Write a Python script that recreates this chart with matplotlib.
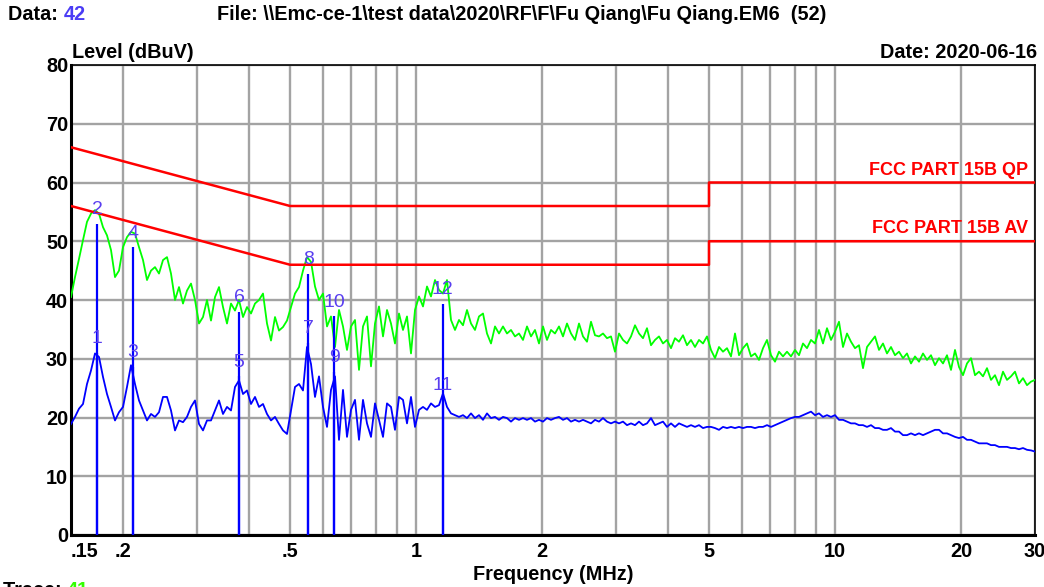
import numpy as np
import matplotlib
matplotlib.use("Agg")
import matplotlib.pyplot as plt
from matplotlib.ticker import FixedLocator, NullFormatter

plt.rcParams['font.family'] = ['Liberation Sans', 'DejaVu Sans']

# ---------------- data ----------------
f_start, f_stop = 0.15, 30.0   # MHz sweep range

peak_levels = [
    40.5, 43.9, 47.0, 50.2, 53.3, 54.7, 55.3, 54.7, 52.4, 51.0,
    48.5, 43.9, 45.0, 49.0, 50.7, 51.6, 51.3, 49.0, 46.8, 43.4,
    45.0, 45.6, 44.5, 46.8, 47.3, 44.5, 40.0, 42.2, 39.4, 41.6,
    42.8, 40.0, 36.0, 37.1, 40.0, 36.5, 40.5, 42.2, 38.8, 36.0,
    39.4, 38.2, 40.0, 37.1, 38.8, 37.7, 39.4, 40.0, 41.1, 36.0,
    33.1, 37.1, 34.8, 35.4, 36.5, 38.8, 41.1, 42.2, 45.0, 47.3,
    46.5, 42.3, 40.0, 41.1, 35.5, 37.2, 32.0, 38.3, 35.5, 31.5,
    35.5, 36.6, 28.1, 35.5, 37.2, 28.7, 36.0, 38.9, 33.8, 38.3,
    36.0, 32.6, 37.7, 34.9, 37.2, 30.9, 38.3, 40.6, 38.9, 42.3,
    40.6, 43.4, 41.7, 41.1, 43.4, 36.6, 34.9, 36.6, 35.7, 38.3,
    36.0, 34.9, 37.2, 37.7, 34.3, 32.6, 35.5, 34.3, 35.5, 34.3,
    34.9, 33.8, 34.3, 33.2, 35.5, 33.8, 34.9, 32.6, 35.5, 33.2,
    34.9, 34.3, 35.5, 33.8, 36.0, 34.3, 33.2, 36.0, 33.8, 32.9,
    36.3, 34.0, 33.8, 34.3, 33.5, 33.8, 31.2, 34.3, 33.2, 32.6,
    33.8, 35.7, 34.3, 33.5, 35.2, 32.3, 33.2, 33.8, 32.6, 33.2,
    31.8, 33.5, 32.9, 34.0, 32.3, 33.2, 32.0, 33.2, 32.6, 33.8,
    31.5, 30.1, 32.0, 31.2, 31.8, 30.4, 34.3, 30.6, 31.8, 32.6,
    30.4, 30.9, 29.8, 31.8, 33.2, 30.6, 29.5, 31.2, 30.4, 31.2,
    30.4, 31.5, 30.6, 32.6, 31.8, 33.2, 32.6, 34.9, 32.6, 35.2,
    33.2, 34.6, 36.3, 32.0, 34.3, 32.9, 31.8, 32.3, 28.4, 32.0,
    32.9, 33.8, 31.5, 32.6, 30.9, 32.0, 30.6, 31.2, 30.1, 30.9,
    29.2, 30.4, 29.5, 30.9, 29.8, 30.6, 28.9, 30.1, 29.2, 30.6,
    28.1, 31.5, 28.6, 27.2, 29.2, 30.1, 27.2, 27.8, 27.0, 28.4,
    26.4, 27.2, 25.5, 27.8, 26.4, 27.0, 27.8, 25.8, 26.7, 25.5,
    26.1, 26.4,
]

avg_levels = [
    18.9, 20.1, 21.5, 22.3, 25.7, 28.0, 30.9, 30.3, 26.9, 24.0,
    21.8, 19.5, 20.9, 21.8, 25.2, 28.9, 25.7, 22.9, 21.2, 19.5,
    20.6, 20.1, 20.9, 23.5, 23.5, 21.2, 17.8, 19.5, 19.2, 20.1,
    21.8, 22.9, 18.9, 17.8, 19.5, 19.5, 21.2, 22.9, 20.6, 21.8,
    21.2, 25.2, 26.3, 24.0, 24.6, 22.3, 23.5, 21.8, 22.3, 20.6,
    19.5, 20.1, 18.9, 17.8, 17.2, 21.2, 25.2, 25.7, 24.6, 32.0,
    29.1, 23.5, 27.0, 21.8, 18.4, 24.7, 27.0, 16.2, 24.7, 16.7,
    21.3, 23.0, 16.2, 23.0, 19.0, 16.7, 22.4, 19.6, 16.7, 22.4,
    21.8, 17.9, 23.5, 23.0, 19.0, 23.5, 18.4, 21.3, 21.8, 21.3,
    22.4, 21.8, 22.1, 24.1, 21.8, 20.7, 20.4, 20.1, 20.4, 19.9,
    20.7, 19.9, 20.4, 19.6, 20.7, 19.9, 20.1, 19.6, 20.1, 19.9,
    19.3, 19.9, 19.6, 19.9, 19.6, 19.9, 19.3, 19.6, 19.3, 19.9,
    19.6, 19.9, 20.1, 19.6, 19.9, 19.3, 19.6, 19.3, 19.6, 19.3,
    19.0, 19.6, 19.3, 19.9, 19.3, 19.0, 19.3, 19.0, 19.3, 18.7,
    19.0, 18.7, 19.3, 18.7, 19.0, 19.9, 18.7, 19.0, 19.3, 18.4,
    19.0, 18.4, 19.0, 18.7, 18.4, 18.7, 18.4, 18.7, 18.2, 18.4,
    18.4, 18.2, 17.9, 18.4, 18.2, 18.4, 18.2, 18.4, 18.2, 18.4,
    18.4, 18.2, 18.4, 18.4, 18.7, 18.4, 18.7, 19.0, 19.3, 19.6,
    19.9, 20.1, 20.1, 20.4, 20.7, 21.0, 20.4, 20.7, 20.1, 20.4,
    20.1, 20.4, 19.6, 19.6, 19.3, 19.0, 19.0, 18.7, 18.7, 18.4,
    18.7, 18.2, 18.2, 17.9, 17.9, 18.2, 17.6, 17.6, 17.0, 17.0,
    17.3, 17.0, 17.3, 17.0, 17.3, 17.6, 17.9, 17.9, 17.3, 17.3,
    17.0, 16.7, 16.5, 16.7, 16.2, 16.2, 15.9, 15.6, 15.6, 15.6,
    15.3, 15.3, 15.0, 15.0, 15.0, 14.8, 14.8, 14.6, 14.8, 14.5,
    14.4, 14.2,
]

# limit lines (FCC Part 15B)
qp_freq = [0.15, 0.5, 0.5, 5.0, 5.0, 30.0]
qp_limit = [66, 56, 56, 56, 60, 60]
av_freq = [0.15, 0.5, 0.5, 5.0, 5.0, 30.0]
av_limit = [56, 46, 46, 46, 50, 50]

# markers
marker_ids = ['1', '2', '3', '4', '5', '6', '7', '8', '9', '10', '11', '12']
marker_freq = [0.173, 0.173, 0.2106, 0.2106, 0.378, 0.378,
               0.553, 0.553, 0.638, 0.638, 1.157, 1.157]
marker_level = [31.0, 53.0, 28.6, 49.0, 27.0, 38.0,
                32.7, 44.5, 27.8, 37.2, 23.0, 39.4]

x_ticks = [0.15, 0.2, 0.5, 1, 2, 5, 10, 20, 30]
x_tick_labels = ['.15', '.2', '.5', '1', '2', '5', '10', '20', '30']
x_minor = [0.3, 0.4, 0.6, 0.7, 0.8, 0.9, 3, 4, 6, 7, 8, 9]
y_ticks = [0, 10, 20, 30, 40, 50, 60, 70, 80]

# ---------------- figure ----------------
W, H = 1044, 587
FS = 14.3
fig = plt.figure(figsize=(W / 100, H / 100), dpi=100)
ax = fig.add_axes([71 / W, 52 / H, 964 / W, 470 / H])

sweep = np.geomspace(f_start, f_stop, len(peak_levels))

ax.set_xscale('log')
ax.set_xlim(f_start, f_stop)
ax.set_ylim(0, 80)

grid_c = '#a3a3a3'
ax.xaxis.set_major_locator(FixedLocator(x_ticks))
ax.xaxis.set_minor_locator(FixedLocator(x_minor))
ax.xaxis.set_minor_formatter(NullFormatter())
ax.set_xticklabels(x_tick_labels)
ax.set_yticks(y_ticks)
ax.grid(True, which='both', axis='x', color=grid_c, lw=1.7, zorder=0)
ax.grid(True, which='major', axis='y', color=grid_c, lw=1.7, zorder=0)
ax.set_axisbelow(True)
ax.tick_params(which='both', length=0)
ax.tick_params(axis='x', pad=5)
ax.tick_params(axis='y', pad=2)

for lab in ax.get_xticklabels() + ax.get_yticklabels():
    lab.set_fontsize(FS)
    lab.set_fontweight('bold')
xl = ax.get_xticklabels()
xl[0].set_horizontalalignment('left')

for s in ['left', 'bottom']:
    ax.spines[s].set_linewidth(2.2)
for s in ['top', 'right']:
    ax.spines[s].set_linewidth(1.2)

# traces
ax.plot(sweep, peak_levels, color='#00ff00', lw=1.3, zorder=3)
ax.plot(sweep, avg_levels, color='#0000ff', lw=1.3, zorder=4)

# limits
ax.plot(qp_freq, qp_limit, color='#ff0000', lw=1.8, zorder=5)
ax.plot(av_freq, av_limit, color='#ff0000', lw=1.8, zorder=5)
ax.text(0.993, 62.1, 'FCC PART 15B QP', transform=ax.get_yaxis_transform(),
        ha='right', va='center', color='#ff0000', fontsize=13, fontweight='bold')
ax.text(0.993, 52.1, 'FCC PART 15B AV', transform=ax.get_yaxis_transform(),
        ha='right', va='center', color='#ff0000', fontsize=13, fontweight='bold')

# markers
ax.vlines(marker_freq, 0, marker_level, color='#0000ff', lw=1.6, zorder=6)
for mid, mf, ml in zip(marker_ids, marker_freq, marker_level):
    ax.text(mf, ml + 2.4, mid, ha='center', va='center', color='#5a3ff0',
            fontsize=14, zorder=7)

# axis titles / header texts
fig.text(72 / W, 1 - 52 / H, 'Level (dBuV)', ha='left', va='center',
         fontsize=FS, fontweight='bold')
fig.text(553 / W, 1 - 574 / H, 'Frequency (MHz)', ha='center', va='center',
         fontsize=FS, fontweight='bold')
fig.text(1037 / W, 1 - 52 / H, 'Date: 2020-06-16', ha='right', va='center',
         fontsize=FS, fontweight='bold')

t1 = fig.text(8 / W, 1 - 15 / H, 'Data: ', ha='left', va='center',
              fontsize=FS, fontweight='bold')
fig.canvas.draw()
bb = t1.get_window_extent()
fig.text(bb.x1 / W, 1 - 15 / H, '42', ha='left', va='center',
         fontsize=FS, fontweight='bold', color='#4a3cf5')
fig.text(217 / W, 1 - 15 / H,
         'File: \\\\Emc-ce-1\\test data\\2020\\RF\\F\\Fu Qiang\\Fu Qiang.EM6  (52)',
         ha='left', va='center', fontsize=FS, fontweight='bold')

t2 = fig.text(3 / W, 1 - 591 / H, 'Trace: ', ha='left', va='center',
              fontsize=FS, fontweight='bold')
bb2 = t2.get_window_extent()
fig.text(bb2.x1 / W, 1 - 591 / H, '41', ha='left', va='center',
         fontsize=FS, fontweight='bold', color='#33ff00')

fig.savefig('out.png', dpi=100)
